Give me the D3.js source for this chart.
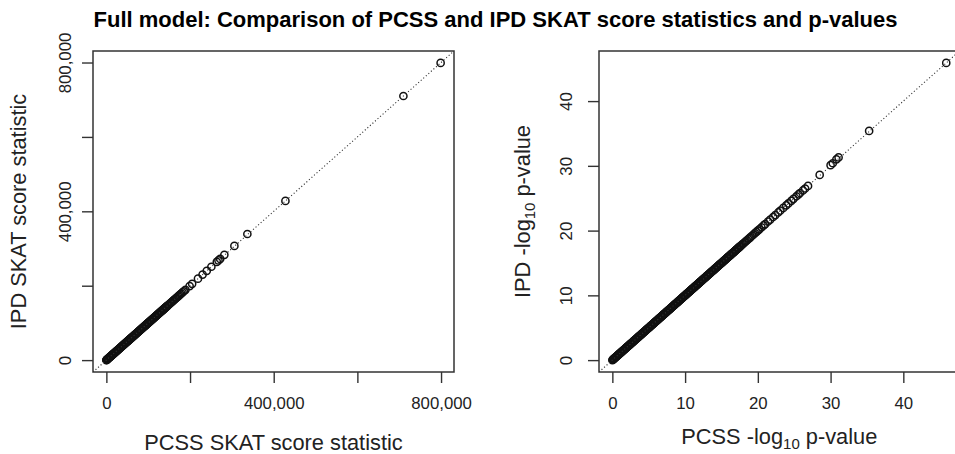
<!DOCTYPE html>
<html>
<head>
<meta charset="utf-8">
<script src="https://cdn.jsdelivr.net/npm/d3@7"></script>
<style>
    body { margin: 0; background: #fff; }
    svg { display: block; font-family: 'Liberation Sans', Arial, Helvetica, sans-serif; }
</style>
</head>
<body>
<div id="chart"></div>
<script>
'use strict';

// left panel: SKAT score statistics
// the solid band near the origin, where IPD equals PCSS (same value on both axes)
const bandScore = [
    0, 400, 900, 1500, 2200, 3000, 3900, 4900, 5900, 6900, 7900, 8900, 9900,
    10900, 11900, 12900, 13900, 14900, 15900, 16900, 17900, 18900, 19900,
    20900, 21900, 22900, 23900, 24900, 25900, 26900, 27900, 28900, 29900,
    30900, 31900, 32900, 33900, 34900, 35900, 36900, 37900, 38900, 39900,
    40900, 41900, 42900, 43900, 44900, 45900, 46900, 47900, 48900, 49900,
    50900, 51900, 52900, 53900, 54900, 55900, 56900, 57900, 58900, 59900,
    60900, 61900, 62900, 63900, 64900, 65900, 66900, 67900, 68900, 69900,
    70900, 71900, 72900, 73900, 74900, 75900, 76900, 77900, 78900, 79900,
    80900, 81900, 82900, 83900, 84900, 85900, 86900, 87900, 88900, 89900,
    90900, 91900, 92900, 93900, 94900, 95900, 96900, 97900, 98900, 99900,
    100900, 101900, 102900, 103900, 104900, 105900, 106900, 107900, 108900, 109900,
    110900, 111900, 112900, 113900, 114900, 115900, 116900, 117900, 118900, 119900,
    120900, 121900, 122900, 123900, 124900, 125900, 126900, 127900, 128900, 129900,
    130900, 131900, 132900, 133900, 134900, 135900, 136900, 137900, 138900, 139900,
    140900, 141900, 142900, 143900, 144900, 145900
];
// the separate points further up the diagonal
const pcssScoreUpper = [
    147500, 149500, 151500, 153500, 155500, 157000, 159000, 161000, 163000, 165000, 167000, 169000,
    171500, 174000, 176500, 179000, 182000, 185000, 189000, 199000, 205000, 219000, 230000, 240000,
    251000, 264000, 268000, 272000, 282000, 306000, 337000, 428000, 710000, 799000
];
const ipdScoreUpper = [
    147500, 149500, 151500, 153500, 155500, 157000, 159000, 161000, 163000, 165000, 167000, 169000,
    171500, 174000, 176500, 179000, 182000, 185000, 189000, 199000, 205000, 219000, 230000, 240000,
    251000, 264000, 268000, 272000, 283000, 307000, 339000, 428000, 710000, 799000
];

// right panel: -log10 p-values, solid band then separate points
const bandLogP = [
    0, 0.06, 0.12, 0.18, 0.24, 0.3, 0.36, 0.42, 0.48, 0.54, 0.6, 0.66, 0.72, 0.78, 0.84, 0.9, 0.96,
    1, 1.06, 1.12, 1.18, 1.24, 1.3, 1.36, 1.42, 1.48, 1.54, 1.6, 1.66, 1.72, 1.78, 1.84, 1.9, 1.96,
    2, 2.06, 2.12, 2.18, 2.24, 2.3, 2.36, 2.42, 2.48, 2.54, 2.6, 2.66, 2.72, 2.78, 2.84, 2.9, 2.96,
    3, 3.06, 3.12, 3.18, 3.24, 3.3, 3.36, 3.42, 3.48, 3.54, 3.6, 3.66, 3.72, 3.78, 3.84, 3.9, 3.96,
    4, 4.06, 4.12, 4.18, 4.24, 4.3, 4.36, 4.42, 4.48, 4.54, 4.6, 4.66, 4.72, 4.78, 4.84, 4.9, 4.96,
    5, 5.06, 5.12, 5.18, 5.24, 5.3, 5.36, 5.42, 5.48, 5.54, 5.6, 5.66, 5.72, 5.78, 5.84, 5.9, 5.96,
    6, 6.06, 6.12, 6.18, 6.24, 6.3, 6.36, 6.42, 6.48, 6.54, 6.6, 6.66, 6.72, 6.78, 6.84, 6.9, 6.96,
    7, 7.06, 7.12, 7.18, 7.24, 7.3, 7.36, 7.42, 7.48, 7.54, 7.6, 7.66, 7.72, 7.78, 7.84, 7.9, 7.96,
    8, 8.06, 8.12, 8.18, 8.24, 8.3, 8.36, 8.42, 8.48, 8.54, 8.6, 8.66, 8.72, 8.78, 8.84, 8.9, 8.96,
    9, 9.06, 9.12, 9.18, 9.24, 9.3, 9.36, 9.42, 9.48, 9.54, 9.6, 9.66, 9.72, 9.78, 9.84, 9.9, 9.96,
    10, 10.06, 10.12, 10.18, 10.24, 10.3, 10.36, 10.42, 10.48, 10.54, 10.6, 10.66, 10.72, 10.78, 10.84, 10.9, 10.96,
    11, 11.06, 11.12, 11.18, 11.24, 11.3, 11.36, 11.42, 11.48, 11.54, 11.6, 11.66, 11.72, 11.78, 11.84, 11.9, 11.96,
    12, 12.06, 12.12, 12.18, 12.24, 12.3, 12.36, 12.42, 12.48, 12.54, 12.6, 12.66, 12.72, 12.78, 12.84, 12.9, 12.96,
    13, 13.06, 13.12, 13.18, 13.24, 13.3, 13.36, 13.42, 13.48, 13.54, 13.6, 13.66, 13.72, 13.78, 13.84, 13.9, 13.96,
    14, 14.06, 14.12, 14.18, 14.24, 14.3, 14.36, 14.42, 14.48, 14.54, 14.6, 14.66, 14.72, 14.78, 14.84, 14.9, 14.96,
    15, 15.06, 15.12, 15.18, 15.24, 15.3, 15.36, 15.42, 15.48, 15.54, 15.6, 15.66, 15.72, 15.78, 15.84, 15.9, 15.96,
    16, 16.06, 16.12, 16.18, 16.24, 16.3, 16.36, 16.42, 16.48, 16.54, 16.6, 16.66, 16.72, 16.78, 16.84, 16.9, 16.96,
    17, 17.06, 17.12, 17.18, 17.24, 17.3, 17.36, 17.42, 17.48, 17.54, 17.6
];
const pcssLogPUpper = [
    17.75, 17.9, 18.05, 18.2, 18.35, 18.5, 18.7, 18.85, 19.0, 19.2, 19.4, 19.6, 19.8, 20.0, 20.2,
    20.5, 20.8, 21.0, 21.4, 21.7, 22.1, 22.4, 22.8, 23.1, 23.5, 23.9, 24.2, 24.6, 24.9, 25.3, 25.6,
    25.8, 26.2, 26.5, 26.9, 28.5, 30.0, 30.3, 30.8, 31.1, 35.3, 45.9
];
const ipdLogPUpper = [
    17.75, 17.9, 18.05, 18.2, 18.35, 18.5, 18.7, 18.85, 19.0, 19.2, 19.4, 19.6, 19.8, 20.0, 20.2,
    20.5, 20.8, 21.0, 21.4, 21.7, 22.1, 22.4, 22.8, 23.1, 23.5, 23.9, 24.2, 24.6, 24.9, 25.3, 25.6,
    25.8, 26.2, 26.5, 26.9, 28.6, 30.1, 30.4, 31.0, 31.3, 35.4, 45.9
];

const scoreTicks = [0, 200000, 400000, 600000, 800000];
const scoreTickLabels = [0, 400000, 800000];
const logPTicks = [0, 10, 20, 30, 40];

const titleText = 'Full model: Comparison of PCSS and IPD SKAT score statistics and p-values';
const scoreXLabel = [{text: 'PCSS SKAT score statistic'}];
const scoreYLabel = [{text: 'IPD SKAT score statistic'}];
const logPXLabel = [{text: 'PCSS -log'}, {text: '10', sub: true}, {text: ' p-value'}];
const logPYLabel = [{text: 'IPD -log'}, {text: '10', sub: true}, {text: ' p-value'}];

(function(doc) {

    const ink = '#111';
    const svg = d3.select('#chart').append('svg')
        .attr('width', 955)
        .attr('height', 454);

    svg.append('rect').attr('width', 955).attr('height', 454).attr('fill', '#fff');

    svg.append('text')
        .attr('x', 495.5)
        .attr('y', 26.5)
        .attr('text-anchor', 'middle')
        .attr('font-size', 22)
        .attr('font-weight', 'bold')
        .attr('fill', '#000')
        .text(titleText);

    // R style: 4% padding around the data range
    const padded = (values) => {
        const [lo, hi] = d3.extent(values);
        const p = (hi - lo) * 0.04;
        return [lo - p, hi + p];
    };

    const addLabel = (sel, parts) => {
        parts.forEach((part, i) => {
            const t = sel.append('tspan').text(part.text);
            if (part.sub) {
                t.attr('font-size', 15).attr('dy', 5);
            } else if (i > 0 && parts[i - 1].sub) {
                t.attr('dy', -5);
            }
        });
    };

    const drawPanel = (cfg) => {
        const box = cfg.box;
        const x = d3.scaleLinear().domain(padded(cfg.xs)).range([box.left, box.right]);
        const y = d3.scaleLinear().domain(padded(cfg.ys)).range([box.bottom, box.top]);

        const clipId = `clip-${cfg.id}`;
        svg.append('clipPath').attr('id', clipId)
            .append('rect')
            .attr('x', box.left).attr('y', box.top)
            .attr('width', box.right - box.left)
            .attr('height', box.bottom - box.top);

        const plot = svg.append('g').attr('clip-path', `url(#${clipId})`);

        plot.selectAll('circle')
            .data(cfg.xs.map((v, i) => [v, cfg.ys[i]]))
            .enter().append('circle')
            .attr('cx', (d) => x(d[0]))
            .attr('cy', (d) => y(d[1]))
            .attr('r', 3.6)
            .attr('fill', 'none')
            .attr('stroke', ink)
            .attr('stroke-width', 1.5);

        // y = x reference line
        const lo = Math.min(x.domain()[0], y.domain()[0]);
        const hi = Math.max(x.domain()[1], y.domain()[1]);
        plot.append('line')
            .attr('x1', x(lo)).attr('y1', y(lo))
            .attr('x2', x(hi)).attr('y2', y(hi))
            .attr('stroke', '#333')
            .attr('stroke-width', 1.1)
            .attr('stroke-dasharray', '1.1,2.3');

        svg.append('rect')
            .attr('x', box.left).attr('y', box.top)
            .attr('width', box.right - box.left)
            .attr('height', box.bottom - box.top)
            .attr('fill', 'none')
            .attr('stroke', '#333')
            .attr('stroke-width', 1.5);

        const xAxis = svg.append('g')
            .attr('transform', `translate(0, ${box.bottom})`)
            .call(d3.axisBottom(x).tickValues(cfg.xTicks).tickFormat(cfg.fmt)
                .tickSize(11).tickSizeOuter(0).tickPadding(14));
        const yAxis = svg.append('g')
            .attr('transform', `translate(${box.left}, 0)`)
            .call(d3.axisLeft(y).tickValues(cfg.yTicks).tickFormat(cfg.fmt)
                .tickSize(11).tickSizeOuter(0));

        for (const axis of [xAxis, yAxis]) {
            axis.attr('font-family', null);
            axis.select('.domain').remove();
            axis.selectAll('line').attr('stroke', '#333').attr('stroke-width', 1.4);
            axis.selectAll('text')
                .attr('font-size', 16.8)
                .attr('fill', '#222');
        }
        yAxis.selectAll('text')
            .attr('transform', 'rotate(-90)')
            .attr('x', 0)
            .attr('y', -cfg.yTickGap)
            .attr('dy', 0)
            .attr('text-anchor', 'middle');

        const xLab = svg.append('text')
            .attr('x', (box.left + box.right) / 2)
            .attr('y', cfg.xLabelY)
            .attr('text-anchor', 'middle')
            .attr('font-size', 21.8)
            .attr('fill', '#222');
        addLabel(xLab, cfg.xLabel);

        const cy = (box.top + box.bottom) / 2;
        const yLab = svg.append('text')
            .attr('transform', `translate(${cfg.yLabelX}, ${cy}) rotate(-90)`)
            .attr('text-anchor', 'middle')
            .attr('font-size', 21.8)
            .attr('fill', '#222');
        addLabel(yLab, cfg.yLabel);
    };

    const commaFormat = d3.format(',');

    drawPanel({
        id: 'score',
        box: {left: 93, right: 454, top: 51, bottom: 372},
        xs: bandScore.concat(pcssScoreUpper),
        ys: bandScore.concat(ipdScoreUpper),
        xTicks: scoreTicks,
        yTicks: scoreTicks,
        fmt: (d) => scoreTickLabels.includes(d) ? commaFormat(d) : '',
        yTickGap: 22,
        xLabel: scoreXLabel,
        yLabel: scoreYLabel,
        xLabelY: 450,
        yLabelX: 26
    });

    drawPanel({
        id: 'logp',
        box: {left: 599, right: 959.6, top: 51, bottom: 372},
        xs: bandLogP.concat(pcssLogPUpper),
        ys: bandLogP.concat(ipdLogPUpper),
        xTicks: logPTicks,
        yTicks: logPTicks,
        fmt: (d) => `${d}`,
        yTickGap: 27,
        xLabel: logPXLabel,
        yLabel: logPYLabel,
        xLabelY: 444,
        yLabelX: 530
    });

}(document));
</script>
</body>
</html>
